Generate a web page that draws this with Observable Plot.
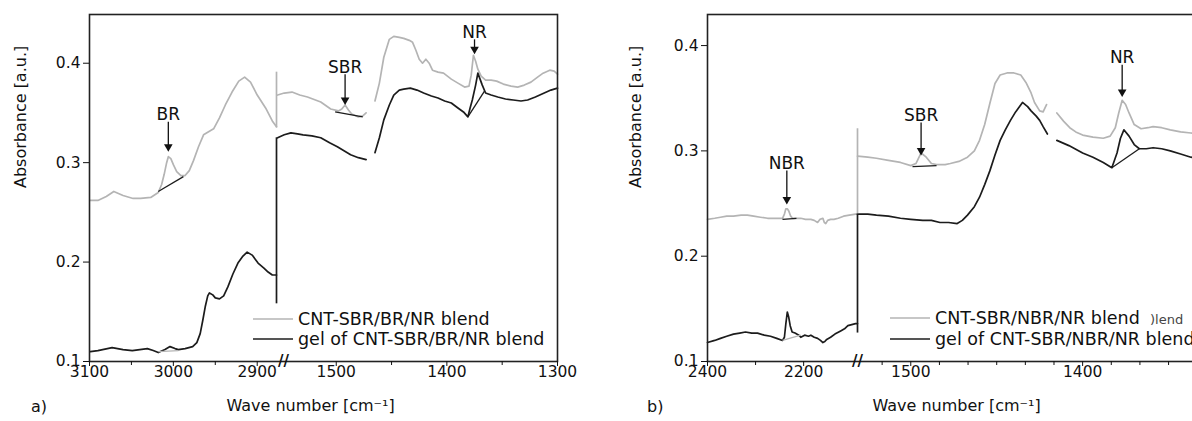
<!DOCTYPE html>
<html><head><meta charset="utf-8">
<script src="https://cdn.jsdelivr.net/npm/d3@7"></script>
<script src="https://cdn.jsdelivr.net/npm/@observablehq/plot@0.6"></script>
<style>
html,body{margin:0;padding:0;background:#fff;overflow:hidden;}
#wrap{position:relative;width:1192px;height:421px;overflow:hidden;background:#fff;}
#pa{position:absolute;left:0;top:0;width:600px;}
#pb{position:absolute;left:600px;top:0;width:660px;}
#wrap svg{max-width:none !important;}
</style></head><body><div id="wrap"><div id="pa"></div><div id="pb"></div></div>
<script>
// ---------- DATA (wave number [cm-1], absorbance [a.u.]) ----------
// Panel a) CNT-SBR/BR/NR blend (gray) and its gel (black)
const aGrayLeft = [[3099,.262],[3090,.262],[3080,.266],[3071,.271],[3060,.267],[3048,.264],[3039,.264],[3027,.265],[3018,.270],[3014,.278],[3011,.288],[3008,.300],[3006,.306],[3003,.304],[3000,.298],[2996,.291],[2991,.287],[2986,.287],[2981,.292],[2976,.302],[2970,.316],[2964,.328],[2958,.331],[2952,.334],[2945,.345],[2938,.358],[2930,.371],[2922,.382],[2915,.386],[2908,.381],[2900,.368],[2890,.355],[2882,.342],[2877,.336]];
const aBlackLeft = [[3099,.110],[3090,.111],[3073,.114],[3060,.112],[3049,.111],[3040,.112],[3031,.113],[3024,.111],[3018,.109],[3010,.112],[3004,.115],[2998,.113],[2994,.112],[2986,.113],[2977,.115],[2972,.119],[2968,.128],[2965,.141],[2962,.155],[2959,.166],[2957,.169],[2953,.167],[2950,.164],[2945,.163],[2940,.166],[2935,.175],[2929,.188],[2923,.199],[2917,.206],[2912,.210],[2906,.207],[2899,.199],[2892,.194],[2887,.190],[2882,.187],[2877,.187]];
const aGrayRight1 = [[1553,.368],[1547,.370],[1540,.371],[1533,.368],[1526,.366],[1514,.361],[1505,.354],[1498,.352],[1495,.354],[1492,.358],[1489,.353],[1486,.349],[1480,.346],[1476,.347],[1473,.350]];
const aGrayRight2 = [[1465,.362],[1461,.380],[1457,.406],[1452,.424],[1448,.427],[1443,.426],[1439,.425],[1434,.423],[1431,.421],[1428,.413],[1425,.404],[1422,.400],[1419,.404],[1416,.400],[1413,.393],[1408,.391],[1403,.390],[1396,.384],[1390,.380],[1384,.376],[1380,.377],[1378,.388],[1376,.408],[1374,.402],[1372,.394],[1369,.387],[1365,.383],[1360,.383],[1355,.382],[1349,.379],[1342,.377],[1336,.376],[1330,.378],[1324,.381],[1318,.386],[1313,.390],[1307,.393],[1303,.392],[1300,.389]];
const aBlackRight1 = [[1553,.325],[1547,.328],[1541,.330],[1535,.329],[1530,.328],[1522,.327],[1514,.325],[1506,.320],[1499,.316],[1493,.312],[1487,.308],[1480,.305],[1473,.303]];
const aBlackRight2 = [[1465,.310],[1461,.325],[1457,.343],[1452,.358],[1448,.368],[1443,.373],[1439,.374],[1433,.375],[1427,.373],[1421,.370],[1414,.367],[1408,.365],[1402,.362],[1396,.360],[1390,.355],[1385,.351],[1381,.346],[1379,.355],[1377,.363],[1374,.378],[1372,.390],[1370,.384],[1368,.378],[1365,.370],[1360,.368],[1354,.366],[1347,.364],[1340,.363],[1333,.362],[1327,.363],[1320,.366],[1312,.370],[1306,.373],[1300,.375]];
// peak baselines [x1, y1, x2, y2, color]
const aBaselines = [[3018,.271,2988,.286,"dark"],[3018,.110,2994,.111,"light"],[1501,.351,1476,.346,"dark"],[1381,.346,1366,.372,"dark"]];
// jumps drawn at the axis break [y1, y2, color]
const aJumps = [[.335,.391,"light"],[.158,.325,"dark"]];
// peak labels [label, wave number, arrow start, arrow tip]
const aPeaks = [["BR",3006,.338,.313],["SBR",1492,.386,.360],["NR",1375,.421,.411]];
const aTicksMajor = [3100,3000,2900,1500,1400,1300];
const aTicksMinor = [3050,2950,1450,1350];
const aYTicks = [0.1,0.2,0.3,0.4];
const aLegend = ["CNT-SBR/BR/NR blend","gel of CNT-SBR/BR/NR blend"];

// Panel b) CNT-SBR/NBR/NR blend (gray) and its gel (black)
const bGrayLeft = [[2400,.235],[2385,.236],[2373,.237],[2360,.238],[2346,.238],[2330,.239],[2317,.239],[2304,.238],[2290,.237],[2275,.236],[2262,.236],[2250,.236],[2244,.236],[2240,.240],[2237,.245],[2234,.245],[2231,.243],[2227,.238],[2223,.236],[2214,.236],[2206,.236],[2196,.235],[2185,.235],[2178,.234],[2171,.232],[2166,.235],[2160,.236],[2157,.232],[2154,.231],[2150,.234],[2144,.235],[2137,.235],[2128,.236],[2117,.238],[2105,.239],[2092,.240],[2088,.240]];
const bBlackLeft = [[2400,.118],[2385,.120],[2373,.122],[2360,.124],[2346,.126],[2333,.127],[2321,.128],[2308,.127],[2296,.127],[2282,.125],[2269,.124],[2256,.122],[2244,.120],[2240,.123],[2237,.136],[2234,.147],[2231,.142],[2228,.134],[2224,.128],[2218,.127],[2210,.125],[2206,.123],[2198,.125],[2190,.124],[2185,.125],[2178,.123],[2171,.122],[2165,.120],[2160,.118],[2156,.119],[2152,.121],[2144,.123],[2135,.126],[2123,.129],[2115,.131],[2108,.134],[2100,.135],[2092,.136],[2088,.136]];
const bGrayRight1 = [[1531,.295],[1525,.294],[1520,.293],[1513,.291],[1506,.289],[1500,.286],[1497,.288],[1494,.298],[1491,.294],[1488,.288],[1485,.287],[1480,.287],[1477,.288],[1472,.290],[1467,.294],[1463,.300],[1460,.310],[1457,.325],[1454,.345],[1451,.364],[1448,.372],[1444,.374],[1440,.374],[1436,.372],[1433,.365],[1430,.355],[1428,.346],[1425,.338],[1423,.337],[1421,.344]];
const bGrayRight2 = [[1415,.336],[1411,.328],[1407.5,.322],[1404,.318],[1400,.315],[1394,.313],[1388,.312],[1384,.314],[1381,.322],[1379,.336],[1377,.348],[1375,.344],[1373,.336],[1370,.325],[1366,.321],[1362,.322],[1359,.323],[1354,.322],[1349,.320],[1343,.318],[1337,.317],[1330,.316]];
const bBlackRight1 = [[1531,.240],[1525,.240],[1520,.239],[1513,.238],[1506,.236],[1500,.235],[1493,.234],[1488,.234],[1483,.232],[1478,.232],[1473,.231],[1470,.234],[1467,.239],[1463,.247],[1460,.256],[1457,.268],[1454,.281],[1451,.296],[1448,.310],[1445,.320],[1442,.329],[1439,.337],[1435,.346],[1432,.342],[1430,.338],[1427,.333],[1425,.329],[1423,.323],[1420.5,.316]];
const bBlackRight2 = [[1415,.310],[1408,.305],[1400,.298],[1394,.294],[1388,.289],[1383,.284],[1380,.298],[1378,.312],[1376,.320],[1373,.314],[1370,.306],[1367,.302],[1363,.302],[1359,.303],[1354,.302],[1349,.300],[1343,.297],[1337,.294],[1330,.292]];
const bBaselines = [[2244,.235,2215,.236,"dark"],[2244,.120,2206,.125,"light"],[1499,.285,1485,.286,"dark"],[1383,.284,1367,.302,"dark"]];
const bJumps = [[.240,.321,"light"],[.127,.240,"dark"]];
const bPeaks = [["NBR",2235,.2785,.251],["SBR",1494,.324,.2975],["NR",1377,.379,.353]];
const bTicksMajor = [2400,2200,1500,1400,1300];
const bTicksMinor = [2300,1516.67,1483.33,1466.67,1450,1433.33,1416.67,1383.33,1366.67,1350,1333.33,1316.67];
const bYTicks = [0.1,0.2,0.3,0.4];
const bLegend = ["CNT-SBR/NBR/NR blend","gel of CNT-SBR/NBR/NR blend"];

// ---------- STYLE ----------
const COLORS = {light: "#b4b4b4", dark: "#1c1c1c"};
const FONT = "DejaVu Sans, Liberation Sans, sans-serif";

function panel(cfg) {
  const L = cfg.marginLeft, R = cfg.width - cfg.marginRight;
  const p = cfg.leftWidth / (R - L);
  // broken axis: wave number -> continuous position u in [0, 1]
  const u = d3.scaleLinear().domain(cfg.xDomain).range([0, p, p, 1]);
  const pts = arr => arr.map(([wn, v]) => ({u: u(wn), v}));
  const lines = [];
  for (const s of cfg.gray) lines.push(Plot.line(pts(s), {x: "u", y: "v", stroke: COLORS.light, strokeWidth: 1.7}));
  for (const s of cfg.black) lines.push(Plot.line(pts(s), {x: "u", y: "v", stroke: COLORS.dark, strokeWidth: 1.7}));
  const baseL = cfg.baselines.filter(b => b[4] === "light").map(([x1, y1, x2, y2]) => ({x1: u(x1), y1, x2: u(x2), y2}));
  const baseD = cfg.baselines.filter(b => b[4] === "dark").map(([x1, y1, x2, y2]) => ({x1: u(x1), y1, x2: u(x2), y2}));
  const jumpL = cfg.jumps.filter(j => j[2] === "light").map(([y1, y2]) => ({x: p, y1, y2}));
  const jumpD = cfg.jumps.filter(j => j[2] === "dark").map(([y1, y2]) => ({x: p, y1, y2}));
  const peaks = cfg.peaks.map(([label, wn, top, tip]) => ({label, u: u(wn), top, tip}));
  const legendMark = (index, scales, values, dim) => {
    const g = d3.create("svg:g").attr("font-family", FONT).attr("text-anchor", "start");
    cfg.legend.forEach((label, i) => {
      const yy = dim.height - dim.marginBottom - cfg.lg.bottom + i * cfg.lg.gap;
      g.append("line").attr("x1", dim.marginLeft + cfg.lg.x0).attr("x2", dim.marginLeft + cfg.lg.x1)
        .attr("y1", yy).attr("y2", yy).attr("stroke", i ? COLORS.dark : COLORS.light).attr("stroke-width", 1.7);
      g.append("text").attr("x", dim.marginLeft + cfg.lg.tx).attr("y", yy).attr("dy", "0.36em")
        .attr("text-anchor", "start").attr("font-size", 17.5).attr("fill", "#111").text(label);
    });
    if (cfg.ghost) {
      g.append("text").attr("x", dim.marginLeft + cfg.ghost.x).attr("y", dim.height - dim.marginBottom - cfg.ghost.up)
        .attr("text-anchor", "start").attr("font-size", 13).attr("fill", "#444").text(cfg.ghost.text);
    }
    return g.node();
  };
  const labelOf = new Map(cfg.ticksMajor.map(t => [u(t), String(t)]));
  return Plot.plot({
    width: cfg.width, height: 421,
    marginLeft: L, marginRight: cfg.marginRight, marginTop: 14, marginBottom: 60,
    x: {domain: [0, 1]},
    y: {domain: cfg.yDomain},
    style: {fontFamily: FONT, fontSize: "15.5px", color: "#111", background: "transparent", maxWidth: "none"},
    marks: [
      ...lines,
      Plot.link(baseL, {x1: "x1", y1: "y1", x2: "x2", y2: "y2", stroke: COLORS.light, strokeWidth: 1.3}),
      Plot.link(baseD, {x1: "x1", y1: "y1", x2: "x2", y2: "y2", stroke: COLORS.dark, strokeWidth: 1.3}),
      Plot.ruleX(jumpL, {x: "x", y1: "y1", y2: "y2", stroke: COLORS.light, strokeWidth: 1.7}),
      Plot.ruleX(jumpD, {x: "x", y1: "y1", y2: "y2", stroke: COLORS.dark, strokeWidth: 1.7}),
      Plot.link(peaks, {x1: "u", x2: "u", y1: "top", y2: "tip", stroke: "#111", strokeWidth: 1.3, dy: -3}),
      Plot.dot(peaks, {x: "u", y: "tip", symbol: "triangle", rotate: 180, r: 3.2, fill: "#111", dy: -3}),
      Plot.text(peaks, {x: "u", y: "top", text: "label", fontSize: 17, dy: -10, fill: "#111"}),
      Plot.frame({stroke: "#222", strokeWidth: 1.6}),
      Plot.axisX({ticks: cfg.ticksMajor.map(u), tickSize: 5, tickPadding: -1, tickFormat: t => labelOf.get(t) ?? "", label: null, fontSize: 15.5}),
      Plot.axisX({ticks: cfg.ticksMinor.map(u), tickSize: 4, tickFormat: () => "", label: null}),
      Plot.axisY({ticks: cfg.yTicks, tickSize: 6, tickPadding: 3, tickFormat: d => d.toFixed(1), label: null, fontSize: 15.5}),
      Plot.text([p], {x: d => d, y: cfg.yDomain[0], text: () => "//", fontSize: 15, fontWeight: "bold", dx: cfg.breakDx, fill: "#111"}),
      Plot.text(["Absorbance [a.u.]"], {frameAnchor: "left", rotate: -90, dx: cfg.yLabelDx, fontSize: 16, fill: "#111"}),
      Plot.text(["Wave number [cm\u207B\u00B9]"], {frameAnchor: "bottom", dy: 49, dx: cfg.xLabelDx, fontSize: 16, fill: "#111"}),
      Plot.text([cfg.tag], {frameAnchor: "bottom-left", dy: 50, dx: cfg.tagDx, fontSize: 16, fill: "#111"}),
      legendMark
    ]
  });
}

document.getElementById("pa").append(panel({
  width: 600, marginLeft: 89, marginRight: 43, leftWidth: 187,
  xDomain: [3100, 2877, 1554, 1300], yDomain: [0.1, 0.449],
  gray: [aGrayLeft, aGrayRight1, aGrayRight2], black: [aBlackLeft, aBlackRight1, aBlackRight2],
  baselines: aBaselines, jumps: aJumps, peaks: aPeaks,
  ticksMajor: aTicksMajor, ticksMinor: aTicksMinor, yTicks: aYTicks,
  legend: aLegend, lg: {x0: 164, x1: 204, tx: 209, bottom: 42, gap: 20},
  breakDx: 7, yLabelDx: -69, xLabelDx: -13, tag: "a)", tagDx: -58.5
}));
document.getElementById("pb").append(panel({
  width: 660, marginLeft: 107, marginRight: 6, leftWidth: 150,
  xDomain: [2400, 2088, 1531, 1300], yDomain: [0.1, 0.4295],
  gray: [bGrayLeft, bGrayRight1, bGrayRight2], black: [bBlackLeft, bBlackRight1, bBlackRight2],
  baselines: bBaselines, jumps: bJumps, peaks: bPeaks,
  ticksMajor: bTicksMajor, ticksMinor: bTicksMinor, yTicks: bYTicks,
  legend: bLegend, lg: {x0: 183, x1: 223, tx: 228, bottom: 43, gap: 21},
  ghost: {x: 443, up: 37, text: ")lend"},
  breakDx: 0, yLabelDx: -72, xLabelDx: -24.5, tag: "b)", tagDx: -60.5
}));
</script></body></html>
